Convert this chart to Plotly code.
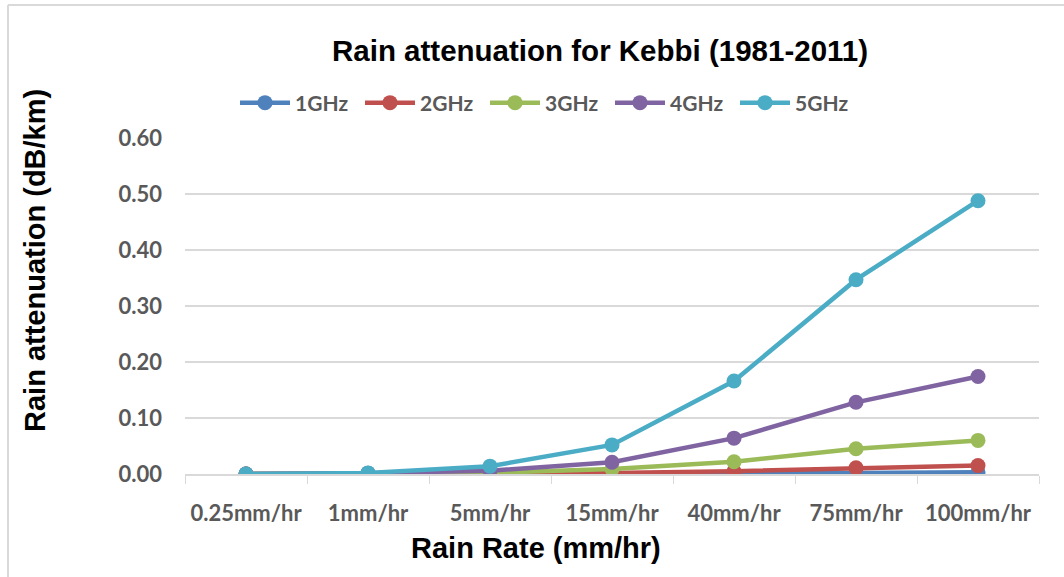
import plotly.graph_objects as go

categories = ["0.25mm/hr", "1mm/hr", "5mm/hr", "15mm/hr", "40mm/hr", "75mm/hr", "100mm/hr"]
ghz1 = [0.0, 0.0001, 0.0002, 0.0005, 0.001, 0.002, 0.003]
ghz2 = [0.0, 0.0003, 0.0008, 0.002, 0.005, 0.011, 0.015]
ghz3 = [0.0, 0.0007, 0.002, 0.009, 0.022, 0.045, 0.060]
ghz4 = [0.0, 0.0015, 0.006, 0.021, 0.064, 0.128, 0.174]
ghz5 = [0.0, 0.002, 0.014, 0.052, 0.166, 0.347, 0.488]
series_names = ["1GHz", "2GHz", "3GHz", "4GHz", "5GHz"]
colors = ["#4f81bd", "#c0504d", "#9bbb59", "#8064a2", "#4bacc6"]

W, H = 1064, 577
L, R, T, B = 185, 25, 138, 103
pw = W - L - R
ph = H - T - B

fig = go.Figure()
for name, vals, c in zip(series_names, [ghz1, ghz2, ghz3, ghz4, ghz5], colors):
    fig.add_trace(go.Scatter(
        x=categories, y=vals, name=name, mode="lines+markers",
        line=dict(color=c, width=4.5),
        marker=dict(color=c, size=15),
    ))

tickfont = dict(family="Lato, Open Sans, sans-serif", size=22, color="#595959", weight="bold")

def px_x(p):
    return (p - L) / pw

def px_y(p):
    return (H - B - p) / ph

fig.update_layout(
    width=W, height=H,
    margin=dict(l=L, r=R, t=T, b=B),
    paper_bgcolor="white", plot_bgcolor="white",
    showlegend=True,
    legend=dict(
        orientation="h", x=px_x(235), y=px_y(103), xanchor="left", yanchor="middle",
        font=dict(family="Lato, Open Sans, sans-serif", size=21, color="#595959", weight="bold"),
        itemwidth=50, entrywidth=60, tracegroupgap=0,
        bgcolor="rgba(0,0,0,0)",
    ),
    xaxis=dict(
        type="category", range=[-0.5, 6.5],
        showgrid=False, showline=True, linecolor="#d9d9d9", linewidth=1.5,
        ticks="outside", tickson="boundaries", ticklen=8, tickcolor="#d9d9d9",
        tickfont=tickfont, ticklabelstandoff=19,
        zeroline=False,
    ),
    yaxis=dict(
        range=[0, 0.6], dtick=0.1, tickformat=".2f",
        showgrid=True, gridcolor="#d9d9d9", gridwidth=1.5,
        showline=False, zeroline=False,
        tickfont=tickfont, ticklabelstandoff=22,
    ),
    annotations=[
        dict(text="Rain attenuation for Kebbi (1981-2011)", xref="paper", yref="paper",
             x=px_x(600), y=px_y(50), xanchor="center", yanchor="middle", showarrow=False,
             font=dict(family="Liberation Sans, Arial, sans-serif", size=29.5, color="black", weight="bold")),
        dict(text="Rain Rate (mm/hr)", xref="paper", yref="paper",
             x=px_x(536), y=px_y(548), xanchor="center", yanchor="middle", showarrow=False,
             font=dict(family="Liberation Sans, Arial, sans-serif", size=29, color="black", weight="bold")),
        dict(text="Rain attenuation (dB/km)", xref="paper", yref="paper", textangle=-90,
             x=px_x(35), y=px_y(261), xanchor="center", yanchor="middle", showarrow=False,
             font=dict(family="Liberation Sans, Arial, sans-serif", size=29, color="black", weight="bold")),
    ],
    shapes=[
        dict(type="line", xref="paper", yref="paper", x0=px_x(8), x1=px_x(1064), y0=px_y(5), y1=px_y(5),
             line=dict(color="#d9d9d9", width=2)),
        dict(type="line", xref="paper", yref="paper", x0=px_x(8), x1=px_x(8), y0=px_y(5), y1=px_y(577),
             line=dict(color="#d9d9d9", width=2)),
    ],
)

fig.write_html("out.html")
